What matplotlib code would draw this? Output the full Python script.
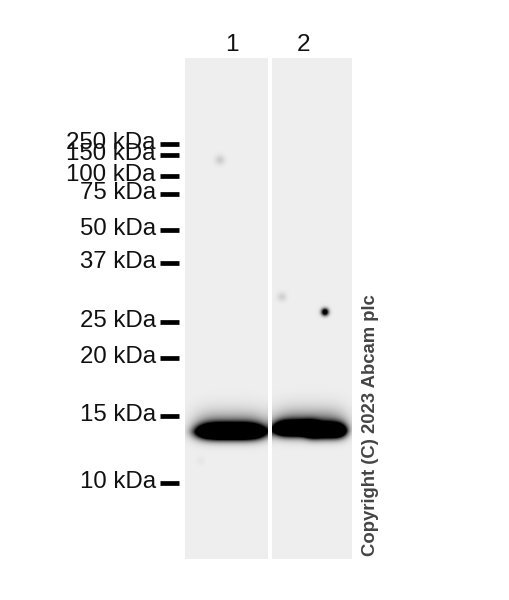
import matplotlib
matplotlib.use('Agg')
import matplotlib.pyplot as plt
import numpy as np

plt.rcParams['font.family'] = ['Liberation Sans', 'DejaVu Sans']

ladder_labels = ['250 kDa', '150 kDa', '100 kDa', '75 kDa', '50 kDa',
                 '37 kDa', '25 kDa', '20 kDa', '15 kDa', '10 kDa']
ladder_y = [144, 155, 176, 194, 230, 263, 322, 358, 416, 483]

lane_names = ['1', '2']
lane_name_x = [232, 304]
lane_left = [185, 272]
lane_right = [268, 352]
lane_top = 58
lane_bottom = 559
background = 238

# x, y, half width, half height above, half height below, darkness
bands = [
    (231, 432, 32, 6.5, 6, 800),
    (231, 430, 36, 15, 9, 170),
    (296, 429, 21, 6.5, 6, 700),
    (326, 431, 19, 6.5, 6, 700),
    (310, 427, 36, 15, 9, 170),
]
# x, y, sigma, darkness
spots = [
    (220, 160, 3.4, 35),
    (325, 312, 2.6, 320),
    (282, 297, 3.2, 30),
    (201, 461, 3.0, 8),
]


def lane_image(left, right):
    x = np.arange(left, right) + 0.5
    y = np.arange(lane_top, lane_bottom) + 0.5
    X, Y = np.meshgrid(x, y)
    dark = np.zeros_like(X, dtype=float)
    for bx, by, hw, up, down, amp in bands:
        h = np.where(Y < by, up, down)
        dark += amp * np.exp(-np.abs((X - bx) / hw) ** 4 - np.abs((Y - by) / h) ** 1.7)
    for sx, sy, s, amp in spots:
        dark += amp * np.exp(-((X - sx) ** 2 + (Y - sy) ** 2) / (2 * s ** 2))
    return np.clip(background - dark, 0, 255)


fig = plt.figure(figsize=(5.09, 6.0), dpi=100)
ax = fig.add_axes([0, 0, 1, 1])
ax.set_xlim(0, 509)
ax.set_ylim(600, 0)
ax.axis('off')

for left, right in zip(lane_left, lane_right):
    ax.imshow(lane_image(left, right), cmap='gray', vmin=0, vmax=255,
              extent=(left, right, lane_bottom, lane_top),
              interpolation='bilinear', aspect='auto')
ax.set_xlim(0, 509)
ax.set_ylim(600, 0)

for name, x in zip(lane_names, lane_name_x):
    ax.text(x, 45, name, fontsize=17.5, ha='center', va='center', color='#111111')

for label, y in zip(ladder_labels, ladder_y):
    ax.plot([160, 179], [y, y], color='black', lw=3.4, solid_capstyle='butt')
    ax.text(156, y - 1, label, fontsize=17.3, ha='right', va='center', color='#111111')

ax.text(371, 556, 'Copyright (C) 2023 Abcam plc', rotation=90, fontsize=13.3,
        fontweight='bold', ha='center', va='bottom', color='#444444')

fig.savefig('out.png', dpi=100)
